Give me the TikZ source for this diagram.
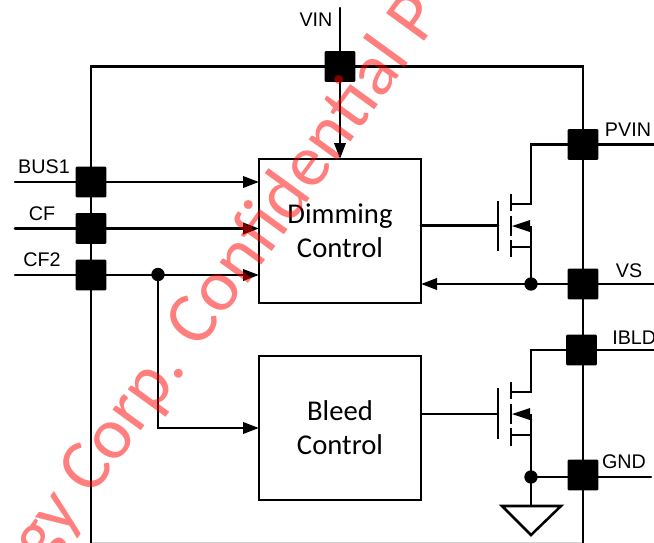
\documentclass[tikz,border=0pt]{standalone}
\usepackage{fontspec}
\setmainfont{Liberation Sans}
\newfontfamily\calib{Carlito}
\usetikzlibrary{arrows.meta}
\tikzset{
 wire/.style={line width=1.9pt,line cap=round,line join=miter},
 sig/.style={wire,-{Triangle[length=12pt,width=8.5pt]}},
 pin/.style={fill=black,rounded corners=.8pt,minimum size=23pt,inner sep=0pt,outer sep=0pt},
 lab/.style={font=\fontsize{14.8}{16}\selectfont,inner sep=0pt},
 blockbox/.style={draw,line width=1.9pt,fill=white,inner sep=0pt,outer sep=0pt,align=center,font=\calib\fontsize{21.5}{25.5}\selectfont},
 dot/.style={circle,fill=black,minimum size=10pt,inner sep=0pt},
 mark wm/.style={text=red,opacity=.5,font=\calib\fontsize{55}{60}\selectfont,rotate=54,inner sep=0pt}
}
\begin{document}
\begin{tikzpicture}[x=.75pt,y=-.75pt]
\useasboundingbox (0,0) rectangle (654,543);
\draw[gray!35,line width=.8pt] (91,542.5) -- (583,542.5);
% outer frame
\coordinate (tl) at (91,66.5); \coordinate (tr) at (583,66.5);
\coordinate (bl) at (91,543); \coordinate (br) at (583,543);
\draw[wire,line cap=butt] (bl) -- (tl) -- (tr) -- (br);
% blocks
\node[blockbox,minimum width=121.5pt,minimum height=108pt] (dim) at (340,231) {Dimming\\Control};
\node[blockbox,minimum width=121.5pt,minimum height=108pt] (ble) at (340,428) {Bleed\\Control};
% pins
\node[pin] (vin) at (340,66.5) {};
\node[pin] (bus) at (91,182) {};
\node[pin] (cf) at (91,228.5) {};
\node[pin] (cftwo) at (91,275) {};
\node[pin] (pvin) at (583,144.5) {};
\node[pin] (vs) at (583,284) {};
\node[pin] (ibld) at (581.5,350) {};
\node[pin] (gnd) at (583,475) {};
% free ends
\coordinate (vint) at (340,8);
\coordinate (bust) at (15,182); \coordinate (cft) at (15,228.5); \coordinate (cftwot) at (15,275);
\coordinate (pvint) at (654,144.5); \coordinate (vst) at (654,284); \coordinate (ibldt) at (654,350); \coordinate (gndt) at (651,477);
% input connectors
\draw[wire] (vint) -- (vin);
\draw[sig] (vin) -- (dim.north);
\draw[wire] (bust) -- (bus);
\draw[wire] (cft) -- (cf);
\draw[wire] (cftwot) -- (cftwo);
\draw[sig] (bus) -- (dim.west |- bus);
\draw[sig] (cf) -- (dim.west |- cf);
\draw[sig] (cftwo) -- (dim.west |- cftwo);
\node[dot] (junc) at (158,274.5) {};
\draw[sig] (junc.center) -- (junc.center |- ble.west) -- (ble.west);
% right connectors
\draw[wire] (pvin) -- (pvint);
\draw[wire] (vs) -- (vst);
\draw[wire] (ibld) -- (ibldt);
\draw[wire] (gnd.east |- gndt) -- (gndt);
% upper MOSFET
\node[dot] (vsd) at (531,284) {};
\coordinate (ga) at (498,225.5);
\draw[wire] (dim.east |- ga) -- (ga);
\draw[wire,line cap=butt] (498,201) -- (498,251);
\draw[wire,line cap=butt] (511,194) -- (511,211) (511,216) -- (511,236) (511,240) -- (511,257);
\draw[wire,line cap=butt] (511,204) -- (531,204) -- (531,144.5) -- (pvin);
\draw[wire,line cap=butt] (511,247) -- (531,247);
\draw[wire,line cap=butt] (531,226) -- (vsd.center);
\fill (512,226) -- (530,220) -- (530,232) -- cycle;
\draw[sig] (vs) -- (dim.east |- vs);
% lower MOSFET
\node[dot] (gd) at (531,477) {};
\coordinate (gb) at (498,414);
\draw[wire] (ble.east |- gb) -- (gb);
\draw[wire,line cap=butt] (498,388) -- (498,439);
\draw[wire,line cap=butt] (511,382) -- (511,399) (511,404) -- (511,424) (511,428) -- (511,446);
\draw[wire,line cap=butt] (511,392) -- (531,392) -- (531,350) -- (ibld);
\draw[wire,line cap=butt] (511,435) -- (531,435);
\draw[wire,line cap=butt] (531,414) -- (gd.center);
\fill (512,414) -- (530,408) -- (530,420) -- cycle;
\draw[wire] (gd.center) -- (gd.center -| gnd.west);
% ground
\coordinate (gt) at (531,506);
\draw[wire,line cap=butt] (gd.center) -- (gt);
\draw[wire,line join=miter,line cap=butt] (502,506) -- (561,506) -- (531,535) -- cycle;
% labels
\node[lab] (lvin) at (316,20) {VIN};
\node[lab] (lbus) at (44,167) {BUS1};
\node[lab] (lcf) at (42,214) {CF};
\node[lab] (lcf2) at (42,260) {CF2};
\node[lab] (lpvin) at (628,130) {PVIN};
\node[lab] (lvs) at (629,271) {VS};
\node[lab,anchor=west] (libld) at (612,338) {IBLD};
\node[lab] (lgnd) at (624,462) {GND};
% watermark
\begin{scope}
\clip (0,0) rectangle (654,543);
\node[mark wm] (wm) at (228,279) {gy Corp. Confidential P};
\end{scope}
\end{tikzpicture}
\end{document}
